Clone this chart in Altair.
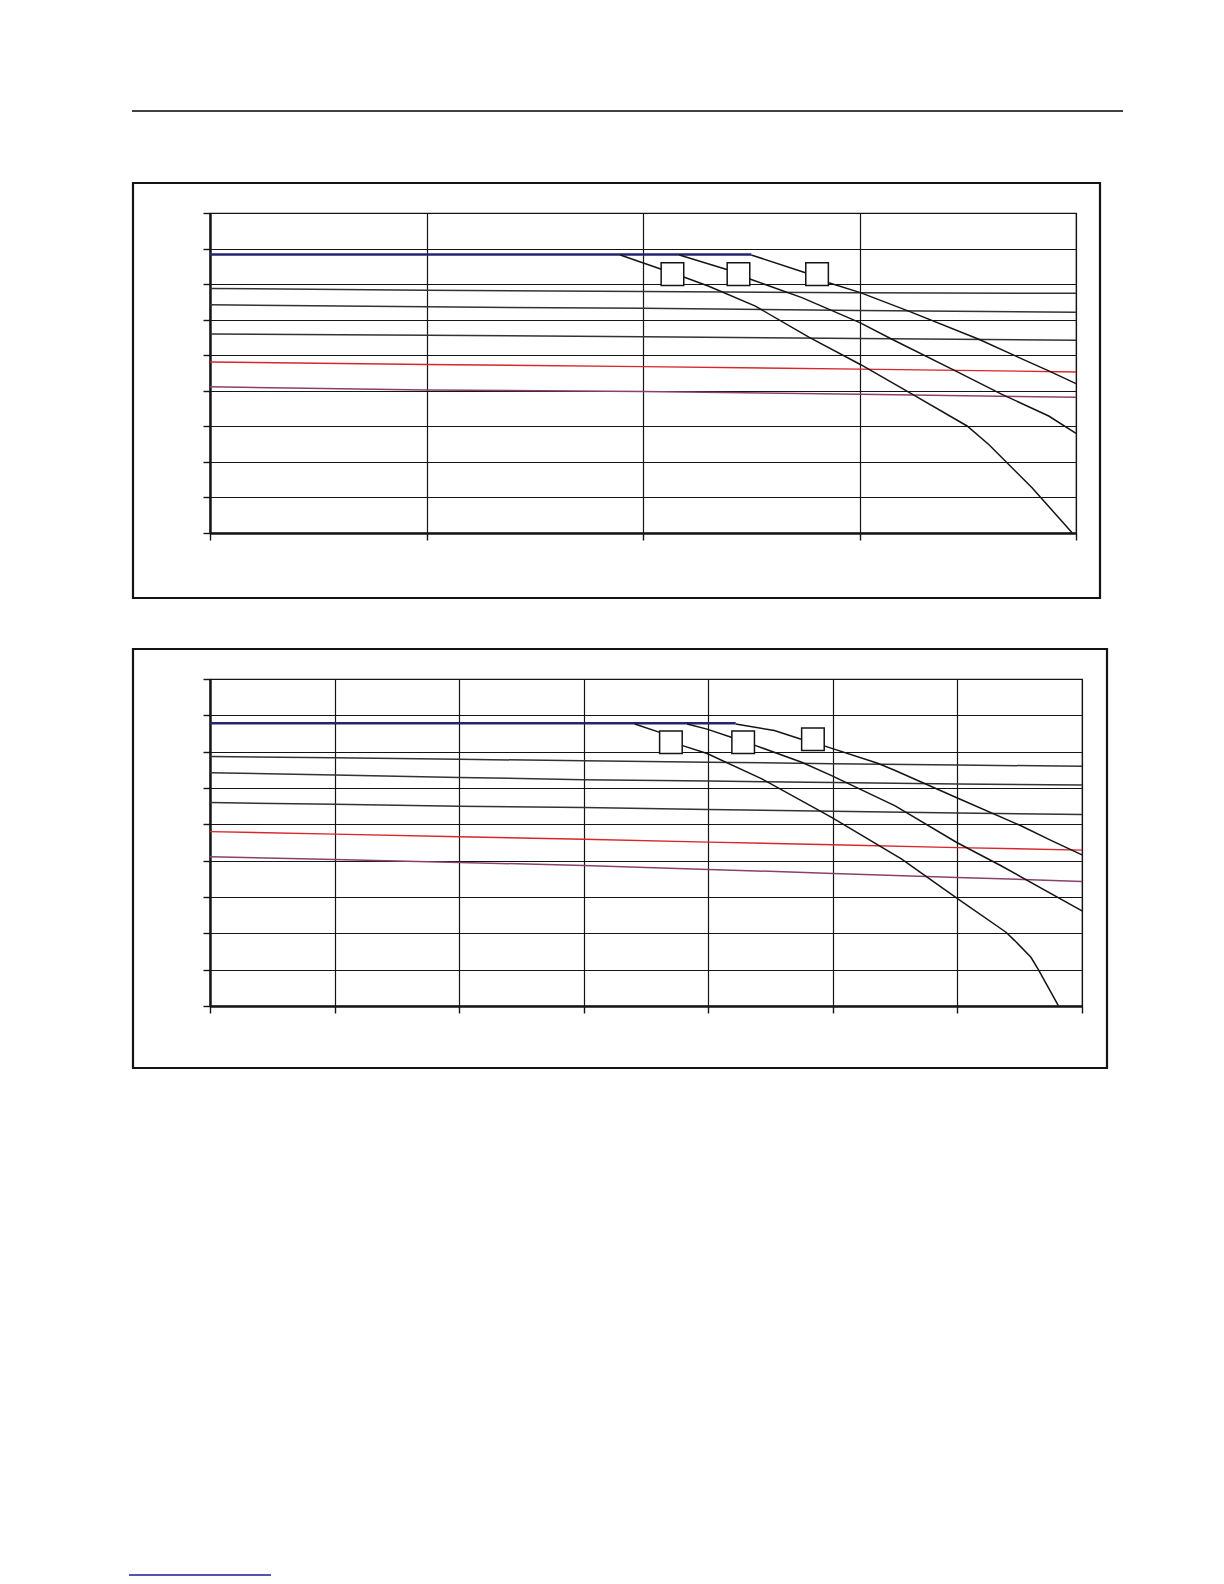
import altair as alt
import pandas as pd

# ---------------- Chart 1 data (x: 0..4 grid units, y: 0..9 grid units) ----------------
c1_xgrid = [0, 1, 2, 3, 4]
c1_g1 = [6.88, 6.83, 6.79, 6.76, 6.74]
c1_g2 = [6.42, 6.36, 6.32, 6.26, 6.21]
c1_g3 = [5.60, 5.56, 5.52, 5.47, 5.42]
c1_red = [4.81, 4.74, 4.68, 4.61, 4.53]
c1_purple = [4.11, 4.02, 3.98, 3.90, 3.82]
c1_blue_x = [0, 2.50]
c1_blue_y = [7.83, 7.83]
c1_A_x = [1.895, 2.085, 2.188, 2.304, 2.519, 2.766, 3.004, 3.245, 3.497, 3.597, 3.797, 3.982]
c1_A_y = [7.82, 7.42, 7.20, 6.94, 6.38, 5.51, 4.74, 3.90, 3.01, 2.49, 1.27, 0.01]
c1_B_x = [2.168, 2.383, 2.500, 2.734, 3.004, 3.150, 3.443, 3.658, 3.874, 4.0]
c1_B_y = [7.82, 7.42, 7.13, 6.62, 5.91, 5.45, 4.56, 3.90, 3.29, 2.80]
c1_C_x = [2.500, 2.750, 2.858, 3.004, 3.227, 3.551, 3.720, 3.874, 4.0]
c1_C_y = [7.82, 7.32, 7.04, 6.76, 6.24, 5.45, 4.98, 4.56, 4.20]
c1_box_x = [2.136, 2.441, 2.804]
c1_box_y = [7.28, 7.28, 7.28]

# ---------------- Chart 2 data (x: 0..7 grid units, y: 0..9 grid units) ----------------
c2_xgrid = [0, 1, 2, 3, 4, 5, 6, 7]
c2_g1 = [6.87, 6.83, 6.79, 6.75, 6.71, 6.67, 6.63, 6.60]
c2_g2 = [6.42, 6.36, 6.29, 6.23, 6.19, 6.15, 6.11, 6.08]
c2_g3 = [5.60, 5.55, 5.50, 5.46, 5.41, 5.36, 5.31, 5.27]
c2_red = [4.80, 4.73, 4.66, 4.59, 4.51, 4.44, 4.36, 4.29]
c2_purple = [4.11, 4.03, 3.95, 3.87, 3.76, 3.65, 3.54, 3.43]
c2_blue_x = [0, 4.22]
c2_blue_y = [7.78, 7.78]
c2_A_x = [3.41, 3.61, 3.80, 3.99, 4.43, 4.99, 5.55, 5.995, 6.39, 6.46, 6.59, 6.65, 6.81]
c2_A_y = [7.76, 7.53, 7.16, 6.95, 6.25, 5.19, 4.05, 2.97, 2.03, 1.80, 1.34, 1.00, 0.01]
c2_B_x = [3.83, 3.99, 4.19, 4.37, 4.75, 4.99, 5.50, 5.995, 6.35, 7.0]
c2_B_y = [7.76, 7.62, 7.39, 7.18, 6.71, 6.34, 5.51, 4.50, 3.86, 2.62]
c2_C_x = [4.22, 4.53, 4.74, 4.93, 5.36, 5.50, 5.995, 6.51, 6.755, 7.0]
c2_C_y = [7.76, 7.58, 7.35, 7.16, 6.68, 6.48, 5.73, 4.96, 4.55, 4.16]
c2_box_x = [3.70, 4.28, 4.84]
c2_box_y = [7.26, 7.26, 7.34]


def long_table(xgrid, g1, g2, g3, red, purple, bx, by, ax, ay, bbx, bby, cx, cy):
    rows = []
    for name, ys in (("g1", g1), ("g2", g2), ("g3", g3), ("red", red), ("purple", purple)):
        for xv, yv in zip(xgrid, ys):
            rows.append({"x": xv, "y": yv, "s": name})
    for xv, yv in zip(bx, by):
        rows.append({"x": xv, "y": yv, "s": "blue"})
    for name, xs, ys in (("A", ax, ay), ("B", bbx, bby), ("C", cx, cy)):
        for xv, yv in zip(xs, ys):
            rows.append({"x": xv, "y": yv, "s": name})
    return pd.DataFrame(rows)


INK = "#141414"


def panel(df, boxes_x, boxes_y, xmax, W, H, box_right, box_bottom, deco):
    xaxis = alt.Axis(values=list(range(xmax + 1)), labels=False, title="", grid=True,
                     gridColor=INK, gridOpacity=1, gridWidth=1.2, domain=True,
                     domainColor=INK, domainWidth=2.4, ticks=True, tickColor=INK,
                     tickSize=7, tickWidth=1.4)
    yaxis = alt.Axis(values=list(range(10)), labels=False, title="", grid=True,
                     gridColor=INK, gridOpacity=1, gridWidth=1.2, domain=True,
                     domainColor=INK, domainWidth=2.4, ticks=True, tickColor=INK,
                     tickSize=7, tickWidth=1.4)
    X = alt.X("x:Q", scale=alt.Scale(domain=[0, xmax], nice=False, zero=False), axis=xaxis)
    Y = alt.Y("y:Q", scale=alt.Scale(domain=[0, 9], nice=False, zero=False), axis=yaxis)

    base = alt.Chart(df).encode(x=X, y=Y, detail="s:N", order="x:Q")
    gray = base.transform_filter(alt.FieldOneOfPredicate(field="s", oneOf=["g1", "g2", "g3"])) \
        .mark_line(color="#333333", strokeWidth=1.5)
    red = base.transform_filter(alt.datum.s == "red").mark_line(color="#d8262b", strokeWidth=1.4)
    purple = base.transform_filter(alt.datum.s == "purple").mark_line(color="#8a4068", strokeWidth=1.5)
    blue = base.transform_filter(alt.datum.s == "blue").mark_line(color="#24256f", strokeWidth=2.5)
    curves = base.transform_filter(alt.FieldOneOfPredicate(field="s", oneOf=["A", "B", "C"])) \
        .mark_line(color=INK, strokeWidth=1.5)

    bdf = pd.DataFrame({"x": boxes_x, "y": boxes_y})
    labels = alt.Chart(bdf).mark_square(size=510, filled=True, fill="white", stroke=INK,
                                        strokeWidth=1.5, opacity=1).encode(
        x=alt.X("x:Q", scale=alt.Scale(domain=[0, xmax], nice=False, zero=False), axis=xaxis),
        y=alt.Y("y:Q", scale=alt.Scale(domain=[0, 9], nice=False, zero=False), axis=yaxis))

    one = alt.Data(values=[{"k": 1}])
    frame = alt.Chart(one).mark_rect(filled=False, stroke=INK, strokeWidth=2.2).encode(
        x=alt.value(-77), x2=alt.value(box_right), y=alt.value(-30), y2=alt.value(box_bottom))

    layers = [frame, gray, red, purple, blue, curves, labels]
    for (x1, x2, y, col) in deco:
        layers.append(alt.Chart(one).mark_rule(color=col, strokeWidth=1.4).encode(
            x=alt.value(x1), x2=alt.value(x2), y=alt.value(y)))
    return alt.layer(*layers).properties(width=W, height=H)


df1 = long_table(c1_xgrid, c1_g1, c1_g2, c1_g3, c1_red, c1_purple, c1_blue_x, c1_blue_y,
                 c1_A_x, c1_A_y, c1_B_x, c1_B_y, c1_C_x, c1_C_y)
df2 = long_table(c2_xgrid, c2_g1, c2_g2, c2_g3, c2_red, c2_purple, c2_blue_x, c2_blue_y,
                 c2_A_x, c2_A_y, c2_B_x, c2_B_y, c2_C_x, c2_C_y)

p1 = panel(df1, c1_box_x, c1_box_y, 4, 866, 320, 890, 385,
           deco=[(-78, 913, -102, "#000000")])
p2 = panel(df2, c2_box_x, c2_box_y, 7, 872, 327, 897, 389,
           deco=[(-81, 61, 896, "#1a1a99")])

chart = alt.vconcat(p1, p2, spacing=146, bounds="flush").properties(
    padding={"left": 119, "top": 101, "right": 10, "bottom": 10}
).configure_view(stroke=INK, strokeWidth=1.2)

chart.save("out.html", embed_options={"renderer": "svg", "actions": False})
